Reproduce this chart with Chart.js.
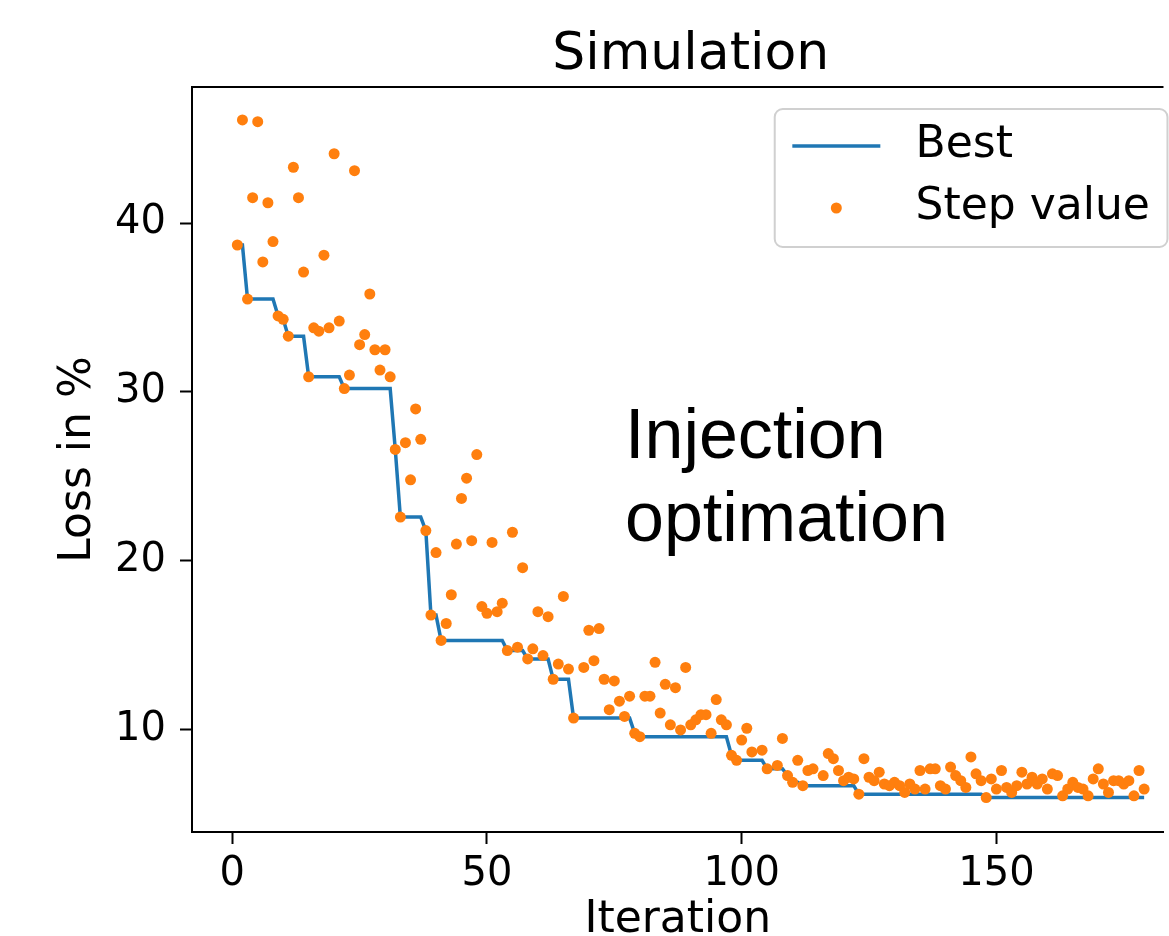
<!DOCTYPE html>
<html>
<head>
<meta charset="utf-8">
<script src="https://cdn.jsdelivr.net/npm/chart.js@4.4.1/dist/chart.umd.min.js"></script>
<style>
  html, body { margin: 0; padding: 0; background: #fff; overflow: hidden; }
  #grafico { display: block; }
</style>
</head>
<body>
<canvas id="grafico" width="1169" height="936"></canvas>
<script>
// valores: un punto por iteracion (1..179), null = no se ve
const stepLoss = [
  38.7, 46.1, 35.5, 41.5, 46.0, 37.7, 41.2, 38.9, 34.5, 34.3,
  33.3, 43.3, 41.5, 37.1, 30.9, 33.8, 33.6, 38.1, 33.8, 44.1,
  34.2, 30.2, 31.0, 43.1, 32.8, 33.4, 35.8, 32.5, 31.3, 32.5,
  30.9, 26.6, 22.6, 27.0, 24.8, 29.0, 27.2, 21.8, 16.8, 20.5,
  15.3, 16.3, 18.0, 21.0, 23.7, 24.9, 21.2, 26.3, 17.3, 16.9,
  21.1, 17.0, 17.5, 14.7, 21.7, 14.9, 19.6, 14.2, 14.8, 17.0,
  14.4, 16.7, 13.0, 13.9, 17.9, 13.6, 10.7, null, 13.7, 15.9,
  14.1, 16.0, 13.0, 11.2, 12.9, 11.7, 10.8, 12.0, 9.8, 9.6,
  12.0, 12.0, 14.0, 11.0, 12.7, 10.3, 12.5, 10.0, 13.7, 10.3,
  10.6, 10.9, 10.9, 9.8, 11.8, 10.6, 10.3, 8.5, 8.2, 9.4,
  10.1, 8.7, null, 8.8, 7.7, null, 7.9, 9.5, 7.3, 6.9,
  8.2, 6.7, 7.6, 7.7, null, 7.3, 8.6, 8.3, 7.6, 7.0,
  7.2, 7.1, 6.2, 8.3, 7.2, 7.0, 7.5, 6.8, 6.7, 6.9,
  6.7, 6.3, 6.8, 6.5, 7.6, 6.5, 7.7, 7.7, 6.7, 6.5,
  7.8, 7.3, 7.0, 6.6, 8.4, 7.4, 7.0, 6.0, 7.1, 6.5,
  7.6, 6.6, 6.3, 6.7, 7.5, 6.8, 7.2, 6.8, 7.1, 6.5,
  7.4, 7.3, 6.1, 6.5, 6.9, 6.6, 6.5, 6.1, 7.1, 7.7,
  6.8, 6.3, 7.0, 7.0, 6.8, 7.0, 6.1, 7.6, 6.5
];

// iteraciones donde "Best" baja, y su valor
const bestIter = [1, 3, 9, 10, 11, 15, 22, 32, 33, 38, 39, 41, 54, 58, 63, 67, 79, 80, 98, 99, 105, 109, 110, 112, 123, 148, 179];
const bestLoss = [38.7, 35.5, 34.5, 34.3, 33.3, 30.9, 30.2, 26.6, 22.6, 21.8, 16.8, 15.3, 14.7, 14.2, 13.0, 10.7, 9.8, 9.6, 8.5, 8.2, 7.7, 7.3, 6.9, 6.7, 6.2, 6.0, 6.0];

const xTicks = [0, 50, 100, 150];
const yTicks = [10, 20, 30, 40];

const tituloTexto = "Simulation";
const notaTexto = ["Injection", "optimation"];

// limites del eje (el borde derecho queda fuera de la imagen)
const xMin = -7.9;
const xMaxVisible = 182.8;
const xMaxEje = 187.9;
const yMin = 3.96;
const yMax = 48.05;

const fuente = '"DejaVu Sans", sans-serif';

// puntos de la linea escalonada
const bestPoints = [];
bestIter.forEach((it, k) => {
  if (k > 0 && it - 1 > bestIter[k - 1]) {
    bestPoints.push({ x: it - 1, y: bestLoss[k - 1] });
  }
  bestPoints.push({ x: it, y: bestLoss[k] });
});

const stepPoints = [];
stepLoss.forEach((v, i) => {
  if (v !== null) stepPoints.push({ x: i + 1, y: v });
});

const extras = {
  id: "extras",
  afterDraw(chart) {
    const { ctx, chartArea, scales } = chart;
    ctx.save();

    // borde superior
    ctx.strokeStyle = "#000";
    ctx.lineWidth = 2;
    ctx.beginPath();
    ctx.moveTo(chartArea.left - 1, chartArea.top);
    ctx.lineTo(chartArea.right, chartArea.top);
    ctx.stroke();

    const ejeIzq = scales.x.getPixelForValue(xMin);
    const ejeDer = scales.x.getPixelForValue(xMaxEje);

    // titulo
    ctx.fillStyle = "#000";
    ctx.font = "52px " + fuente;
    ctx.textAlign = "center";
    ctx.textBaseline = "alphabetic";
    ctx.fillText(tituloTexto, (ejeIzq + ejeDer) / 2, 69);

    // leyenda
    const fs = 44;
    ctx.font = fs + "px " + fuente;
    const ds = chart.data.datasets;
    let anchoTexto = 0;
    ds.forEach(d => { anchoTexto = Math.max(anchoTexto, ctx.measureText(d.label).width); });
    const der = ejeDer - 0.5 * fs;
    const ancho = 0.4 * fs + 2 * fs + 0.8 * fs + anchoTexto + 0.4 * fs;
    const izq = der - ancho;
    const arriba = chartArea.top + 22;
    const alto = 138;
    ctx.fillStyle = "rgba(255,255,255,0.8)";
    ctx.strokeStyle = "#d0d0d0";
    ctx.lineWidth = 2;
    ctx.beginPath();
    ctx.roundRect(izq, arriba, ancho, alto, 8);
    ctx.fill();
    ctx.stroke();

    const hIzq = izq + 0.4 * fs;
    const hDer = hIzq + 2 * fs;
    ds.forEach((d, k) => {
      const cy = arriba + 37 + k * 62;
      if (d.type === "line") {
        ctx.strokeStyle = d.borderColor;
        ctx.lineWidth = d.borderWidth;
        ctx.beginPath();
        ctx.moveTo(hIzq, cy);
        ctx.lineTo(hDer, cy);
        ctx.stroke();
      } else {
        ctx.fillStyle = d.backgroundColor;
        ctx.beginPath();
        ctx.arc((hIzq + hDer) / 2, cy, d.pointRadius, 0, Math.PI * 2);
        ctx.fill();
      }
      ctx.fillStyle = "#000";
      ctx.textAlign = "left";
      ctx.textBaseline = "middle";
      ctx.fillText(d.label, hDer + 0.8 * fs, cy);
    });

    // nota
    ctx.font = '70px "Liberation Sans", Arial, sans-serif';
    ctx.textAlign = "left";
    ctx.textBaseline = "alphabetic";
    ctx.fillStyle = "#000";
    notaTexto.forEach((t, k) => ctx.fillText(t, 625, 458 + k * 83));

    ctx.restore();
  }
};

const config = {
  type: "scatter",
  data: {
    datasets: [
      {
        type: "line",
        label: "Best",
        data: bestPoints,
        borderColor: "#1f77b4",
        borderWidth: 3.5,
        pointRadius: 0,
        fill: false,
        tension: 0,
        order: 1
      },
      {
        label: "Step value",
        data: stepPoints,
        backgroundColor: "#ff7f0e",
        borderColor: "#ff7f0e",
        pointRadius: 5.5,
        pointBorderWidth: 0,
        order: 0
      }
    ]
  },
  options: {
    responsive: false,
    animation: false,
    devicePixelRatio: 1,
    layout: { padding: { top: 87, right: 0, left: 0, bottom: 0 } },
    plugins: {
      legend: { display: false },
      tooltip: { enabled: false },
      title: { display: false }
    },
    scales: {
      x: {
        type: "linear",
        min: xMin,
        max: xMaxVisible,
        afterBuildTicks: s => { s.ticks = xTicks.map(v => ({ value: v })); },
        afterFit: s => { s.height = 104; s.paddingLeft = 0; s.paddingRight = 0; },
        grid: { drawOnChartArea: false, tickLength: 12, tickWidth: 2, tickColor: "#000", color: "#000" },
        border: { color: "#000", width: 2 },
        ticks: { font: { family: fuente, size: 40 }, color: "#000", padding: 7, maxRotation: 0 },
        title: {
          display: true,
          text: "Iteration",
          color: "#000",
          font: { family: fuente, size: 44, lineHeight: 0.7 },
          padding: 0
        }
      },
      y: {
        min: yMin,
        max: yMax,
        afterBuildTicks: s => { s.ticks = yTicks.map(v => ({ value: v })); },
        afterFit: s => { s.width = 192; s.paddingTop = 0; s.paddingBottom = 0; },
        grid: { drawOnChartArea: false, tickLength: 12, tickWidth: 2, tickColor: "#000", color: "#000" },
        border: { color: "#000", width: 2 },
        ticks: { font: { family: fuente, size: 40 }, color: "#000", padding: 14 },
        title: {
          display: true,
          text: "Loss in %",
          color: "#000",
          font: { family: fuente, size: 44, lineHeight: 0.8 },
          padding: { top: 61, bottom: 0 }
        }
      }
    }
  },
  plugins: [extras]
};

const canvas = document.getElementById("grafico");
window.miGrafico = new Chart(canvas, config);
</script>
</body>
</html>
